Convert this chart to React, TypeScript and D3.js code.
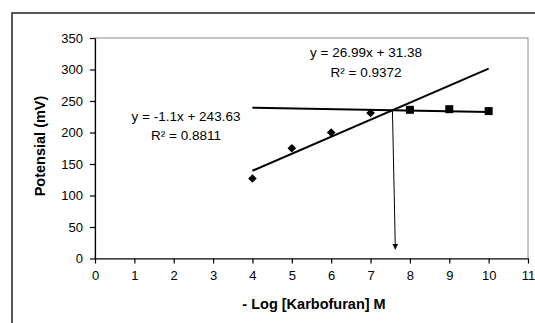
import { useEffect, useRef } from 'react';
import * as d3 from 'd3';

// measured points
const diamondX = [4, 5, 6, 7];
const diamondY = [127, 175, 200, 231];
const squareX = [8, 9, 10];
const squareY = [236, 237, 234];

// trendlines as printed on the chart
const trendA = { slope: 26.99, intercept: 31.38, label: 'y = 26.99x + 31.38', r2: 'R² = 0.9372' };
const trendB = { slope: -1.1, intercept: 243.63, label: 'y = -1.1x + 243.63', r2: 'R² = 0.8811' };
const trendRange = [4, 10];

const xTicks = [0, 1, 2, 3, 4, 5, 6, 7, 8, 9, 10, 11];
const yTicks = [0, 50, 100, 150, 200, 250, 300, 350];

export default function App() {
  const svgRef = useRef<SVGSVGElement>(null);

  useEffect(() => {
    if (!svgRef.current) return;
    const svg = d3.select(svgRef.current);
    svg.selectAll('*').remove();

    const font = '"Liberation Sans", Arial, sans-serif';

    // outer chart frame (cropped on the right and bottom)
    svg
      .append('rect')
      .attr('x', 12)
      .attr('y', 13)
      .attr('width', 540)
      .attr('height', 330)
      .attr('fill', 'none')
      .attr('stroke', '#222')
      .attr('stroke-width', 1.5);

    const x = d3.scaleLinear().domain([0, 11]).range([95, 528]);
    const y = d3.scaleLinear().domain([0, 350]).range([258.5, 38]);

    // plot area border
    svg
      .append('rect')
      .attr('x', x(0))
      .attr('y', y(350))
      .attr('width', x(11) - x(0))
      .attr('height', y(0) - y(350))
      .attr('fill', 'none')
      .attr('stroke', '#888')
      .attr('stroke-width', 1);

    const xAxis = svg
      .append('g')
      .attr('transform', `translate(0,${y(0)})`)
      .call(d3.axisBottom(x).tickValues(xTicks).tickSize(5).tickSizeOuter(0).tickPadding(7));
    const yAxis = svg
      .append('g')
      .attr('transform', `translate(${x(0)},0)`)
      .call(d3.axisLeft(y).tickValues(yTicks).tickSize(5).tickSizeOuter(0).tickPadding(7));

    [xAxis, yAxis].forEach((a) => {
      a.selectAll('.domain, .tick line').attr('stroke', '#000').attr('stroke-width', 1.2);
      a.selectAll('text')
        .attr('font-family', font)
        .attr('font-size', 13)
        .attr('fill', '#000');
    });

    // trendlines
    [trendA, trendB].forEach((t) => {
      svg
        .append('line')
        .attr('x1', x(trendRange[0]))
        .attr('y1', y(t.slope * trendRange[0] + t.intercept))
        .attr('x2', x(trendRange[1]))
        .attr('y2', y(t.slope * trendRange[1] + t.intercept))
        .attr('stroke', '#000')
        .attr('stroke-width', 2);
    });

    // arrow from intersection down to axis
    const xi = (trendB.intercept - trendA.intercept) / (trendA.slope - trendB.slope);
    const yi = trendA.slope * xi + trendA.intercept;
    const defs = svg.append('defs');
    defs
      .append('marker')
      .attr('id', 'arrow')
      .attr('viewBox', '0 0 10 10')
      .attr('refX', 9)
      .attr('refY', 5)
      .attr('markerWidth', 6)
      .attr('markerHeight', 7)
      .attr('markerUnits', 'userSpaceOnUse')
      .attr('orient', 'auto')
      .append('path')
      .attr('d', 'M0,0L10,5L0,10Z')
      .attr('fill', '#000');
    svg
      .append('line')
      .attr('x1', x(xi))
      .attr('y1', y(yi))
      .attr('x2', x(7.63))
      .attr('y2', y(15))
      .attr('stroke', '#000')
      .attr('stroke-width', 1)
      .attr('marker-end', 'url(#arrow)');

    // markers
    const diamond = d3.symbol(d3.symbolDiamond2, 48);
    svg
      .selectAll('.dia')
      .data(diamondX)
      .enter()
      .append('path')
      .attr('d', diamond)
      .attr('transform', (d, i) => `translate(${x(d)},${y(diamondY[i])})`)
      .attr('fill', '#000');
    svg
      .selectAll('.sq')
      .data(squareX)
      .enter()
      .append('rect')
      .attr('x', (d) => x(d) - 4)
      .attr('y', (d, i) => y(squareY[i]) - 4)
      .attr('width', 8)
      .attr('height', 8)
      .attr('fill', '#000');

    // equation labels
    const label = (cx: number, cy: number, txt: string) =>
      svg
        .append('text')
        .attr('x', cx)
        .attr('y', cy)
        .attr('text-anchor', 'middle')
        .attr('font-family', font)
        .attr('font-size', 13.5)
        .attr('fill', '#000')
        .text(txt);
    label(366, 57, trendA.label);
    label(366, 77, trendA.r2);
    label(186, 121, trendB.label);
    label(186, 140, trendB.r2);

    // axis titles
    svg
      .append('text')
      .attr('x', 314)
      .attr('y', 309)
      .attr('text-anchor', 'middle')
      .attr('font-family', font)
      .attr('font-size', 14.5)
      .attr('font-weight', 'bold')
      .text('- Log [Karbofuran] M');
    svg
      .append('text')
      .attr('transform', `translate(45,146) rotate(-90)`)
      .attr('text-anchor', 'middle')
      .attr('font-family', font)
      .attr('font-size', 14.5)
      .attr('font-weight', 'bold')
      .text('Potensial (mV)');
  }, []);

  return (
    <svg
      ref={svgRef}
      width={535}
      height={323}
      style={{ position: 'absolute', left: 0, top: 0, background: '#fff' }}
    />
  );
}
